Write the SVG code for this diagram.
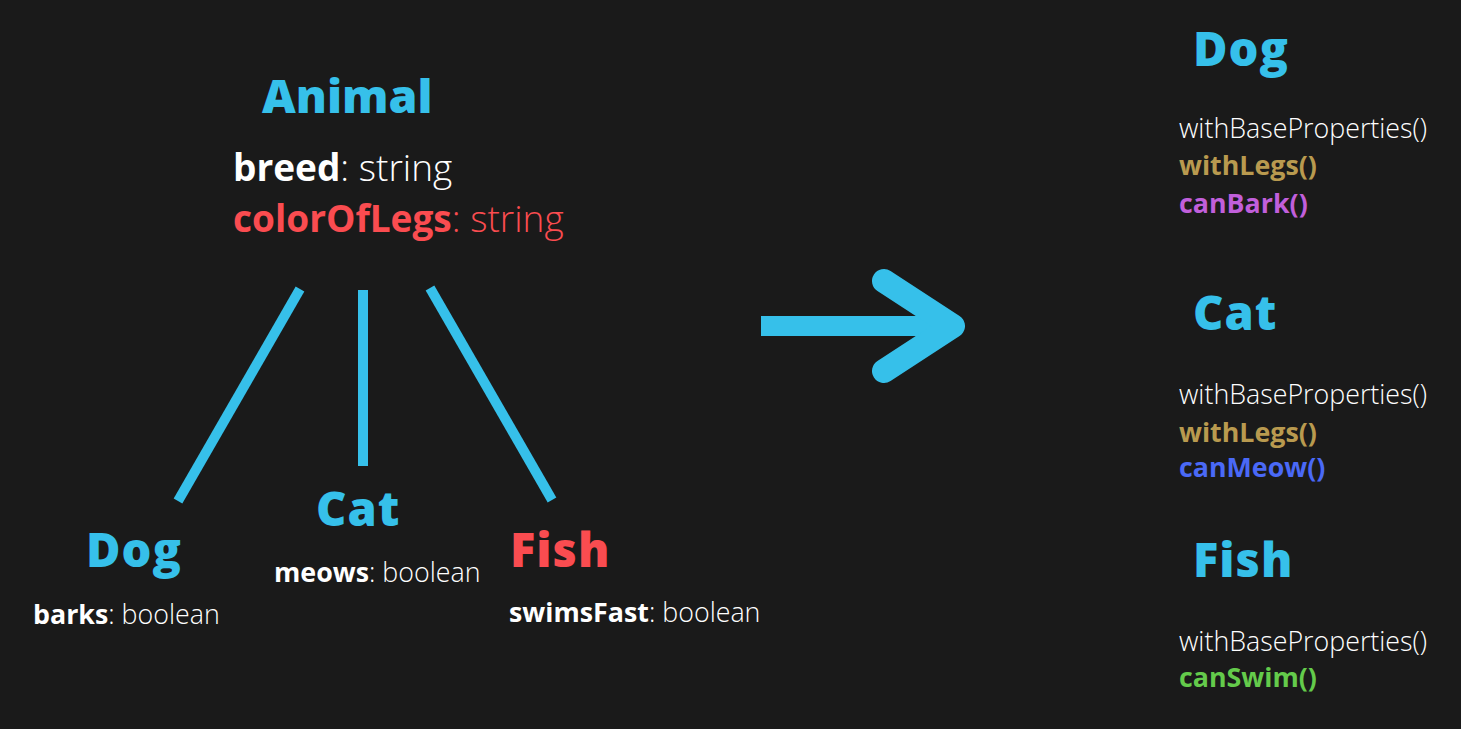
<svg xmlns="http://www.w3.org/2000/svg" width="1461" height="729" viewBox="0 0 1461 729">
<style>
.h{font-family:"Open Sans",sans-serif;font-weight:800;fill:#36c0ea}
.t{font-family:"Open Sans",sans-serif;font-weight:300;fill:#ffffff}
.b{font-weight:700}
.red{fill:#fa4c50}
.ln{stroke:#36c0ea;stroke-width:10;fill:none}
.ar{stroke:#36c0ea;fill:none}
</style>
<rect width="1461" height="729" fill="#1a1a1a"/>
<g id="animal">
<text class="h" x="262" y="113" font-size="46.5">Animal</text>
<text class="t" x="233" y="181" font-size="37"><tspan class="b">breed</tspan>: string</text>
<text class="t red" x="233" y="232" font-size="37"><tspan class="b">colorOfLegs</tspan>: string</text>
</g>
<g id="connectors">
<line class="ln" x1="300" y1="289" x2="178" y2="501"/>
<line class="ln" x1="363" y1="290" x2="363" y2="466"/>
<line class="ln" x1="430" y1="288" x2="552" y2="500"/>
<line class="ar" x1="761" y1="326" x2="945" y2="326" stroke-width="20"/>
<path class="ar" d="M884,281 L953,326 L884,371" stroke-width="24" stroke-linecap="round" stroke-linejoin="round"/>
</g>
<g id="dog">
<text class="h" x="86" y="567" font-size="47" letter-spacing="1">Dog</text>
<text class="t" x="33" y="624" font-size="26.8"><tspan class="b">barks</tspan>: boolean</text>
</g>
<g id="cat">
<text class="h" x="316" y="526" font-size="47" letter-spacing="1">Cat</text>
<text class="t" x="274" y="582" font-size="26.8"><tspan class="b">meows</tspan>: boolean</text>
</g>
<g id="fish">
<text class="h red" x="510" y="567" font-size="47" letter-spacing="1">Fish</text>
<text class="t" x="509" y="622" font-size="26.8"><tspan class="b">swimsFast</tspan>: boolean</text>
</g>
<g id="dog-composed">
<text class="h" x="1193" y="66" font-size="47" letter-spacing="1">Dog</text>
<text class="t" x="1179" y="138" font-size="26.8">withBaseProperties()</text>
<text class="t b" x="1179" y="175" font-size="26.8" style="fill:#b99a4f">withLegs()</text>
<text class="t b" x="1179" y="213" font-size="26.8" style="fill:#c15fdb">canBark()</text>
</g>
<g id="cat-composed">
<text class="h" x="1193" y="330" font-size="47" letter-spacing="1">Cat</text>
<text class="t" x="1179" y="404" font-size="26.8">withBaseProperties()</text>
<text class="t b" x="1179" y="442" font-size="26.8" style="fill:#b99a4f">withLegs()</text>
<text class="t b" x="1179" y="477" font-size="26.8" style="fill:#4a69f7">canMeow()</text>
</g>
<g id="fish-composed">
<text class="h" x="1193" y="577" font-size="47" letter-spacing="1">Fish</text>
<text class="t" x="1179" y="651" font-size="26.8">withBaseProperties()</text>
<text class="t b" x="1179" y="687" font-size="26.8" style="fill:#64cb4b">canSwim()</text>
</g>
</svg>
